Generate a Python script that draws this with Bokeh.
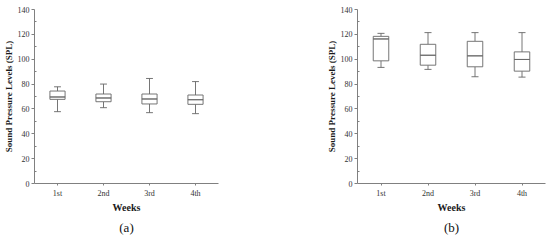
from bokeh.plotting import figure
from bokeh.layouts import row
from bokeh.models import Title, FixedTicker
from bokeh.embed import file_html
from bokeh.resources import INLINE

weeks = ["1st", "2nd", "3rd", "4th"]
positions = [1, 2, 3, 4]

# Panel (a)
a_lower = [57.8, 61.0, 57.0, 56.2]
a_q1 = [67.7, 65.8, 64.0, 63.7]
a_median = [69.6, 68.8, 68.0, 67.4]
a_q3 = [74.4, 72.0, 72.0, 71.2]
a_upper = [77.8, 80.0, 84.5, 82.0]

# Panel (b)
b_lower = [93.4, 91.8, 85.9, 85.6]
b_q1 = [98.7, 95.2, 93.9, 90.4]
b_median = [116.3, 103.2, 102.7, 99.8]
b_q3 = [118.4, 112.0, 114.4, 105.9]
b_upper = [120.8, 121.4, 121.4, 121.4]

y_ticks = [0, 20, 40, 60, 80, 100, 120, 140]

FONT = "Liberation Serif"
AX = "#808080"
BOX = "#666666"


def panel(lower, q1, med, q3, upper, tag, left_border, right_border, top_border):
    p = figure(width=275, height=241, x_range=(0.5, 4.5), y_range=(0, 140),
               output_backend="svg", toolbar_location=None,
               min_border_left=left_border, min_border_right=right_border,
               min_border_top=top_border, min_border_bottom=58)
    p.outline_line_color = None
    p.grid.visible = False
    p.background_fill_color = "white"
    p.border_fill_color = "white"

    bw = 0.33
    cw = 0.15
    lw = 0.9
    p.segment(positions, q3, positions, upper, line_color=BOX, line_width=lw)
    p.segment(positions, lower, positions, q1, line_color=BOX, line_width=lw)
    p.vbar(x=positions, width=bw, bottom=q1, top=q3, fill_color="white",
           line_color=BOX, line_width=lw)
    p.rect(x=positions, y=med, width=bw, height=0.001, line_color=BOX,
           line_width=lw, fill_color=None)
    xs0 = [x - cw / 2 for x in positions]
    xs1 = [x + cw / 2 for x in positions]
    p.segment(xs0, upper, xs1, upper, line_color=BOX, line_width=lw)
    p.segment(xs0, lower, xs1, lower, line_color=BOX, line_width=lw)

    p.xaxis.ticker = FixedTicker(ticks=positions)
    p.xaxis.major_label_overrides = {pos: w for pos, w in zip(positions, weeks)}
    p.yaxis.ticker = FixedTicker(ticks=y_ticks, minor_ticks=[10, 30, 50, 70, 90, 110, 130])

    for ax in (p.xaxis[0], p.yaxis[0]):
        ax.axis_line_color = AX
        ax.major_tick_line_color = AX
        ax.minor_tick_line_color = AX
        ax.major_label_text_font = FONT
        ax.major_label_text_font_size = "8px"
        ax.major_label_text_color = "#333333"
        ax.axis_label_text_font = FONT
        ax.axis_label_text_font_style = "bold"
        ax.axis_label_text_color = "#1a1a1a"

    p.xaxis.major_tick_out = 2
    p.xaxis.major_tick_in = 0
    p.xaxis.minor_tick_out = 0
    p.xaxis.major_label_standoff = 3
    p.xaxis.axis_label = "Weeks"
    p.xaxis.axis_label_text_font_size = "10px"
    p.xaxis.axis_label_standoff = 1

    p.yaxis.major_tick_out = 3
    p.yaxis.major_tick_in = 0
    p.yaxis.minor_tick_out = 0
    p.yaxis.minor_tick_in = 2
    p.yaxis.major_label_standoff = 2
    p.yaxis.axis_label = "Sound Pressure Levels (SPL)"
    p.yaxis.axis_label_text_font_size = "9px"
    p.yaxis.axis_label_standoff = 1

    t = Title(text=tag, align="center", text_font=FONT, text_font_size="13px",
              text_font_style="normal", text_color="#111111", standoff=5)
    p.add_layout(t, "below")
    return p


pa = panel(a_lower, a_q1, a_median, a_q3, a_upper, "(a)", 32, 57, 8)
pb = panel(b_lower, b_q1, b_median, b_q3, b_upper, "(b)", 82, 5, 9)
layout = row(pa, pb, spacing=0)

open("out.html", "w").write(file_html(layout, INLINE))
